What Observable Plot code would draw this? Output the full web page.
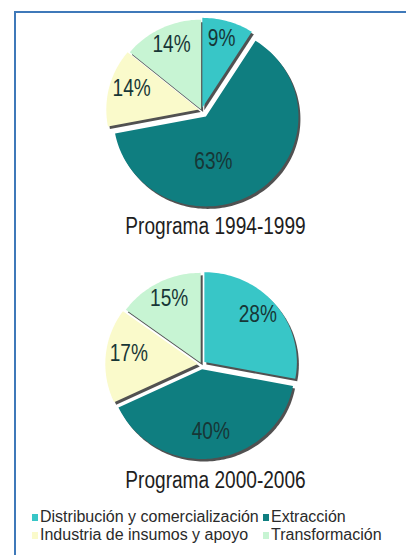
<!DOCTYPE html>
<html>
<head>
<meta charset="utf-8">
<script src="https://cdn.jsdelivr.net/npm/d3@7"></script>
<script src="https://cdn.jsdelivr.net/npm/@observablehq/plot@0.6"></script>
<style>
  html, body { margin: 0; padding: 0; background: #fff; }
  #wrap { position: relative; width: 406px; height: 555px; overflow: hidden; background: #fff; }
  #border { position: absolute; left: 14px; top: 11px; width: 400px; height: 560px;
            border-top: 2px solid #3f79b9; border-left: 2px solid #3f79b9; box-sizing: border-box; }
  #chart { position: absolute; left: 0; top: 0; }
  #legend { position: absolute; left: 32px; top: 508px; font-family: "Liberation Sans", Arial, sans-serif;
            font-size: 16px; color: #2a2a2a; line-height: 18px; white-space: nowrap; }
  .row { display: flex; }
  .item { display: flex; align-items: center; }
  .item.c0 { width: 231px; }
  .sw { width: 6px; height: 7px; margin-right: 2px; flex: none; }
</style>
</head>
<body>
<div id="wrap">
  <div id="border"></div>
  <div id="chart"></div>
  <div id="legend"></div>
</div>
<script>
const programs = ["Programa 1994-1999", "Programa 2000-2006"];
const categories = ["Distribución y comercialización", "Extracción", "Industria de insumos y apoyo", "Transformación"];
const values1994 = [9, 63, 14, 14];
const values2000 = [28, 40, 17, 15];
const colors = ["#38c6c7", "#0f7e80", "#fafacb", "#c7f4d3"];

// styling: how far each slice is pulled out (in radius units)
const explode = [[0.03, 0.085, 0.03, 0.01], [0.04, 0.055, 0.04, 0.02]];

const pts = [], labels = [];
programs.forEach((p, pi) => {
  const vals = pi === 0 ? values1994 : values2000;
  const total = d3.sum(vals);
  let acc = 0;
  vals.forEach((v, i) => {
    const a0 = acc / total * 2 * Math.PI; acc += v;
    const a1 = acc / total * 2 * Math.PI;
    const am = (a0 + a1) / 2, e = explode[pi][i];
    const ox = e * Math.sin(am), oy = e * Math.cos(am);
    const n = Math.max(8, Math.ceil((a1 - a0) / (2 * Math.PI) * 240));
    pts.push({program: p, category: categories[i], x: ox, y: oy});
    for (let k = 0; k <= n; k++) {
      const a = a0 + (a1 - a0) * k / n;
      pts.push({program: p, category: categories[i], x: ox + Math.sin(a), y: oy + Math.cos(a)});
    }
    const big = v / total > 0.5;
    const lr = big ? 0.55 : 0.75;
    const la = big ? am + 0.45 : am;
    labels.push({program: p, x: ox + lr * Math.sin(la), y: oy + lr * Math.cos(la), text: v + "%"});
  });
});

const font = "'Liberation Sans', Arial, sans-serif";
const marks = [
  Plot.line(pts, {x: "x", y: "y", fy: "program", z: "category", fill: "#262626", fillOpacity: 0.8, stroke: "none", dx: 2, dy: 2.5}),
  ...categories.map((c, i) => Plot.line(pts.filter(d => d.category === c),
      {x: "x", y: "y", fy: "program", fill: colors[i], stroke: "none"})),
  Plot.text(labels, {x: "x", y: "y", fy: "program", text: "text", dy: -4, fontSize: 23, fill: "#173636", fontFamily: font}),
  Plot.text(programs, {fy: d => d, text: d => d, frameAnchor: "bottom", dx: 12, dy: -29, lineAnchor: "middle",
      fontSize: 23, fill: "#1e1e1e", fontFamily: font})
];

const chart = Plot.plot({
  width: 406, height: 509,
  marginTop: 0, marginBottom: 0, marginLeft: 0, marginRight: 0,
  x: {domain: [-2.173, 2.216], axis: null},
  y: {domain: [-1.617, 1.211], axis: null},
  fy: {domain: programs, padding: 0, axis: null},
  style: {background: "transparent", overflow: "visible"},
  marks
});
document.getElementById("chart").appendChild(chart);

// condense the chart's text horizontally, like the narrow face of the original
chart.querySelectorAll("g[aria-label='text'] text").forEach(t => {
  const w = t.getComputedTextLength();
  if (w > 0) {
    t.setAttribute("textLength", (w * 0.83).toFixed(1));
    t.setAttribute("lengthAdjust", "spacingAndGlyphs");
  }
});

const legend = document.getElementById("legend");
const order = [[0, 1], [2, 3]];
order.forEach(row => {
  const r = document.createElement("div"); r.className = "row";
  row.forEach((ci, k) => {
    const it = document.createElement("div"); it.className = "item c" + k;
    const sw = document.createElement("span"); sw.className = "sw"; sw.style.background = colors[ci];
    const t = document.createElement("span"); t.textContent = categories[ci];
    it.appendChild(sw); it.appendChild(t); r.appendChild(it);
  });
  legend.appendChild(r);
});
</script>
</body>
</html>
